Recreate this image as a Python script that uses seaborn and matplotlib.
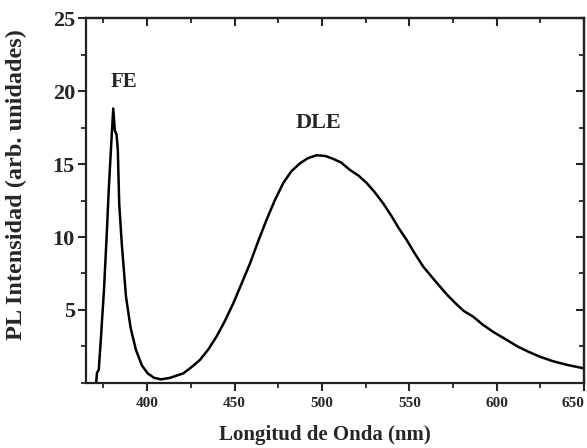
import matplotlib
matplotlib.use("Agg")
import matplotlib.pyplot as plt
import seaborn as sns
import pandas as pd
from matplotlib.ticker import MultipleLocator

# Espectro PL
longitud = [370.8, 371.3, 372.3, 373.5, 375.3, 377.0, 378.0, 379.5, 380.6, 381.5,
            382.5, 383.2, 384.0, 385.5, 387.9, 390.5, 393.6, 397.0, 400.3, 404.0,
            408.0, 413.0, 420.7, 425.0, 430.2, 435.0, 439.8, 444.5, 449.3, 454.0,
            458.9, 463.5, 468.4, 473.0, 477.9, 482.5, 487.5, 492.0, 497.0, 502.0,
            506.5, 511.0, 516.0, 521.0, 525.6, 530.0, 535.1, 540.0, 544.0, 548.5,
            553.0, 558.0, 563.0, 567.6, 572.0, 577.0, 581.0, 586.6, 592.0, 598.0,
            605.8, 612.0, 618.0, 624.8, 632.0, 640.0, 650.0]
intensidad = [0.0, 0.7, 0.9, 3.0, 6.4, 10.5, 13.2, 16.5, 18.8, 17.3,
              17.0, 16.0, 12.3, 9.5, 5.9, 3.8, 2.26, 1.2, 0.66, 0.35,
              0.25, 0.35, 0.66, 1.05, 1.58, 2.3, 3.2, 4.25, 5.46, 6.8,
              8.2, 9.7, 11.2, 12.5, 13.7, 14.5, 15.05, 15.4, 15.6, 15.55,
              15.35, 15.1, 14.6, 14.2, 13.7, 13.1, 12.3, 11.4, 10.6, 9.8,
              8.9, 7.97, 7.25, 6.6, 6.0, 5.4, 4.95, 4.54, 4.0, 3.5,
              2.95, 2.5, 2.15, 1.8, 1.5, 1.25, 1.0]

x_ticks = [400, 450, 500, 550, 600, 650]
y_ticks = [5, 10, 15, 20, 25]

df = pd.DataFrame({"Longitud": longitud, "Intensidad": intensidad})

sns.set_style("ticks")
plt.rcParams["font.family"] = ["Liberation Serif", "DejaVu Serif"]
plt.rcParams["font.weight"] = "bold"

fig = plt.figure(figsize=(5.87, 4.48), dpi=100)
ax = fig.add_axes([0.1465, 0.1451, 0.8484, 0.8147])

sns.lineplot(data=df, x="Longitud", y="Intensidad", ax=ax, color="black",
             linewidth=1.8, sort=False)

ax.set_xlim(365, 650)
ax.set_ylim(0, 25)
ax.set_xticks(x_ticks)
ax.set_yticks(y_ticks)
ax.xaxis.set_minor_locator(MultipleLocator(25))
ax.yaxis.set_minor_locator(MultipleLocator(2.5))

for s in ax.spines.values():
    s.set_linewidth(1.6)
    s.set_color("#222222")

ax.tick_params(axis="x", which="major", direction="out", length=6, width=1.5,
               labelsize=11, pad=4)
ax.tick_params(axis="x", which="minor", direction="out", length=3.5, width=1.3)
ax.tick_params(axis="y", which="major", direction="out", length=6, width=1.5,
               labelsize=16, pad=2)
ax.tick_params(axis="y", which="minor", direction="out", length=3.5, width=1.3)

# la etiqueta 650 queda pegada al borde derecho
for lab in ax.get_xticklabels():
    if lab.get_text() == "650":
        lab.set_horizontalalignment("right")

# ticks hacia dentro arriba y a la derecha
top = ax.secondary_xaxis("top")
top.set_xticks(x_ticks)
top.xaxis.set_minor_locator(MultipleLocator(25))
top.tick_params(which="major", direction="in", length=6, width=1.5, labeltop=False)
top.tick_params(which="minor", direction="in", length=3.5, width=1.3)
top.spines["top"].set_linewidth(1.6)

right = ax.secondary_yaxis("right")
right.set_yticks(y_ticks)
right.yaxis.set_minor_locator(MultipleLocator(2.5))
right.tick_params(which="major", direction="in", length=6, width=1.5, labelright=False)
right.tick_params(which="minor", direction="in", length=3.5, width=1.3)
right.spines["right"].set_linewidth(1.6)

ax.set_xlabel("Longitud de Onda (nm)", fontsize=15, fontweight="bold")
ax.set_ylabel("PL Intensidad (arb. unidades)", fontsize=17.5, fontweight="bold")
ax.xaxis.set_label_coords(0.48, -0.115)
ax.yaxis.set_label_coords(-0.118, 0.545)

ax.text(386.7, 20.6, "FE", fontsize=15, fontweight="bold", ha="center", va="center")
ax.text(498.3, 17.8, "DLE", fontsize=16, fontweight="bold", ha="center", va="center")

fig.savefig("out.png", dpi=100)
